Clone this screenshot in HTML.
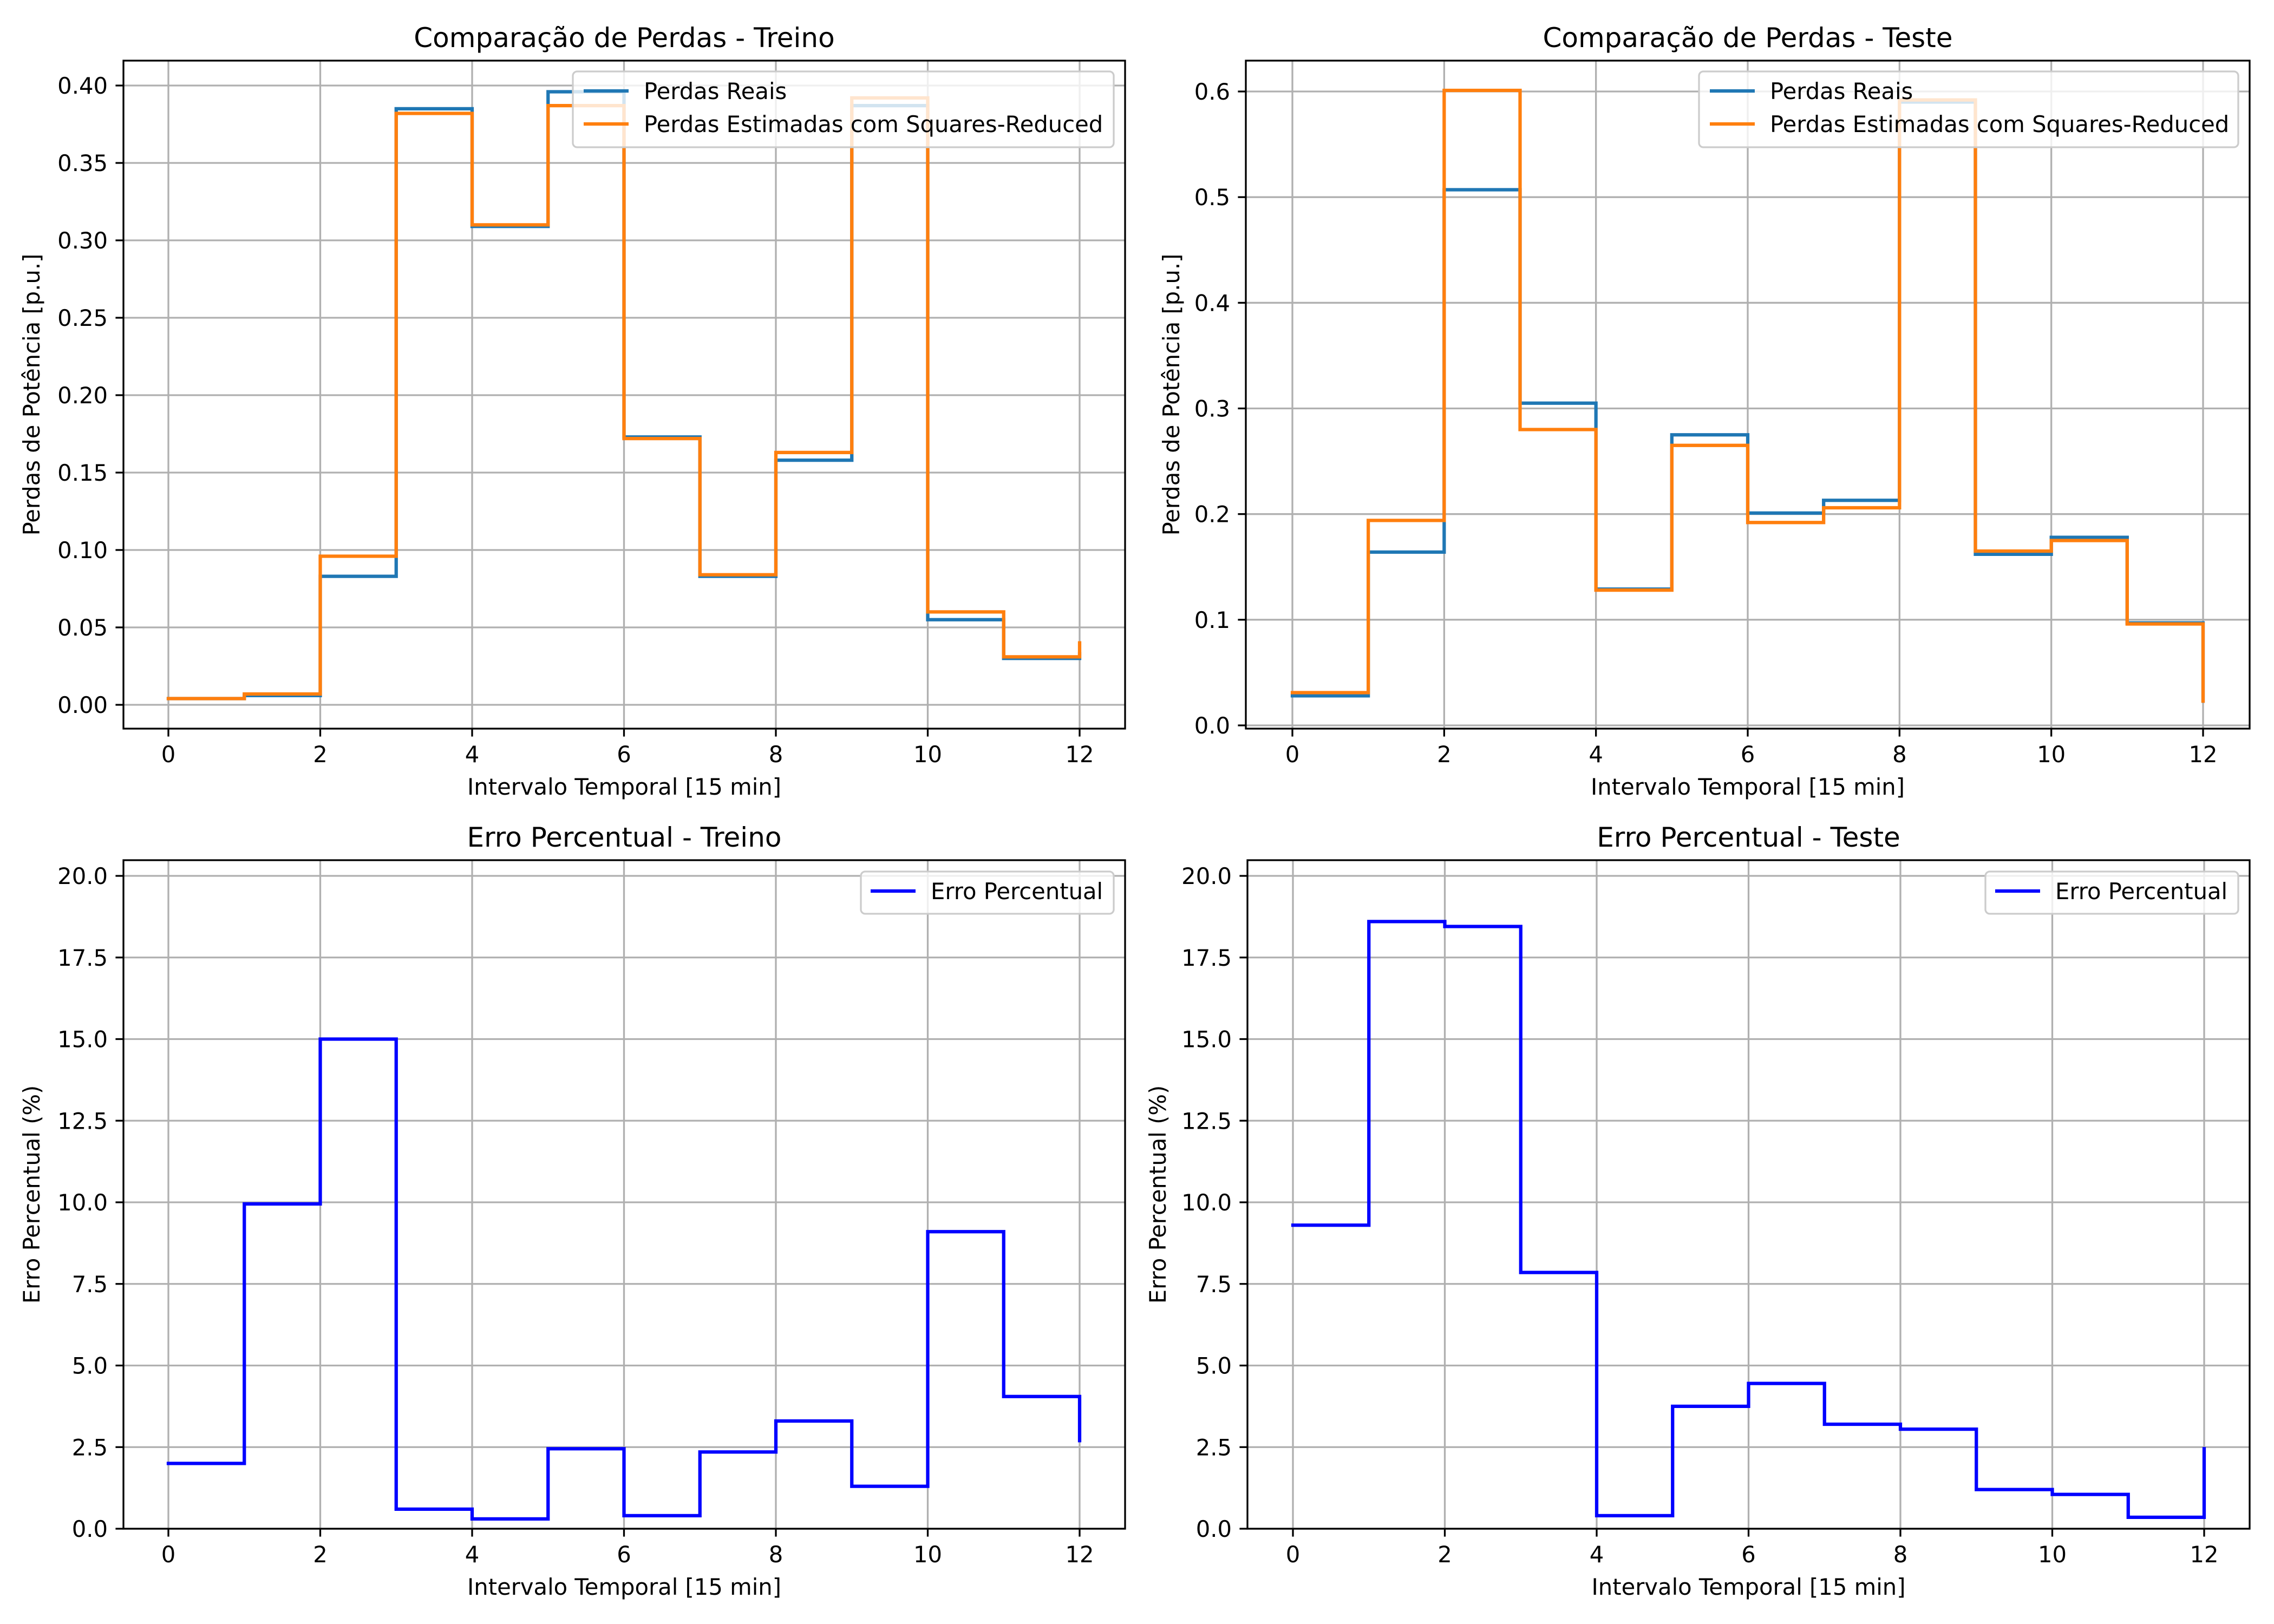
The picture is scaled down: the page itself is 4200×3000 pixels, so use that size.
<!DOCTYPE html>
<html><head><meta charset="utf-8"><style>
html,body{margin:0;padding:0;background:#fff}
svg{display:block}
text{font-family:"DejaVu Sans","Liberation Sans",sans-serif;fill:#000}
</style></head><body>
<svg id="fig" width="4200" height="3000" viewBox="0 0 4200 3000" xmlns="http://www.w3.org/2000/svg"></svg>
<script>
const xCats = [0,1,2,3,4,5,6,7,8,9,10,11,12];
const xTicks = [0,2,4,6,8,10,12];
const trainReal = [0.004,0.006,0.083,0.385,0.309,0.396,0.173,0.083,0.158,0.387,0.055,0.030,0.033];
const trainEst = [0.004,0.007,0.096,0.382,0.310,0.387,0.172,0.084,0.163,0.392,0.060,0.031,0.040];
const testReal = [0.028,0.164,0.507,0.305,0.129,0.275,0.201,0.213,0.590,0.162,0.178,0.097,0.023];
const testEst = [0.031,0.194,0.601,0.280,0.128,0.265,0.192,0.206,0.592,0.165,0.175,0.096,0.023];
const errTrain = [2.0,9.95,15.0,0.6,0.3,2.45,0.4,2.35,3.3,1.3,9.1,4.05,2.7];
const errTest = [9.3,18.6,18.45,7.85,0.4,3.75,4.45,3.2,3.05,1.2,1.05,0.35,2.45];
const yTicksTrain = [0,0.05,0.10,0.15,0.20,0.25,0.30,0.35,0.40];
const yTicksTest = [0,0.1,0.2,0.3,0.4,0.5,0.6];
const yTicksErr = [0,2.5,5,7.5,10,12.5,15,17.5,20];

const NS="http://www.w3.org/2000/svg";
const svg=document.getElementById('fig');
function mk(tag,attrs,parent){const e=document.createElementNS(NS,tag);for(const k in attrs)e.setAttribute(k,attrs[k]);(parent||svg).appendChild(e);return e;}

function panel(cfg){
  const g=mk('g',{});
  
  
  const L=cfg.L,R=cfg.R,T=cfg.T,B=cfg.B;
  const sx=v=>cfg.x0+(cfg.x12-cfg.x0)*v/12;
  const sy=v=>cfg.yA+(cfg.yB-cfg.yA)*(v-cfg.vA)/(cfg.vB-cfg.vA);
  // grid
  xTicks.forEach(t=>{const l=mk('line',{x1:sx(t),x2:sx(t),y1:T,y2:B,stroke:'#b0b0b0','stroke-width':3.3},g);
    
    });
  cfg.yTicks.forEach(t=>{const l=mk('line',{x1:L,x2:R,y1:sy(t),y2:sy(t),stroke:'#b0b0b0','stroke-width':3.3},g);
    
    });
  // series
  cfg.series.forEach(s=>{
    let d='M'+sx(xCats[0])+' '+sy(s.vals[0]);
    for(let i=1;i<xCats.length;i++){d+=' H'+sx(xCats[i])+' V'+sy(s.vals[i]);}
    const p=mk('path',{d:d,fill:'none',stroke:s.color,'stroke-width':6.25,'stroke-linejoin':'miter','stroke-linecap':'square'},g);
    
    
  });
  // spines
  const f=mk('rect',{x:L,y:T,width:R-L,height:B-T,fill:'none',stroke:'#000','stroke-width':3.3},g);
  
  
  // ticks
  xTicks.forEach(t=>{mk('line',{x1:sx(t),x2:sx(t),y1:B,y2:B+14.6,stroke:'#000','stroke-width':3.3},g);
    const tx=mk('text',{x:sx(t),y:B+62,'font-size':41.7,'text-anchor':'middle'},g);tx.textContent=t;
    
    });
  cfg.yTicks.forEach(t=>{mk('line',{x1:L-14.6,x2:L,y1:sy(t),y2:sy(t),stroke:'#000','stroke-width':3.3},g);
    const tx=mk('text',{x:L-29,y:sy(t)+15,'font-size':41.7,'text-anchor':'end'},g);tx.textContent=t.toFixed(cfg.dec);
    
    });
  // titles
  const ti=mk('text',{x:(L+R)/2,y:T-25,'font-size':50,'text-anchor':'middle'},g);ti.textContent=cfg.title;
  
  
  const xl=mk('text',{x:(L+R)/2,y:B+122,'font-size':41.7,'text-anchor':'middle'},g);xl.textContent='Intervalo Temporal [15 min]';
  
  
  const yx=cfg.ylx, yy=(T+B)/2;
  const yl=mk('text',{x:yx,y:yy,'font-size':41.7,'text-anchor':'middle',transform:'rotate(-90 '+yx+' '+yy+')'},g);yl.textContent=cfg.ylabel;
  
  
  // legend
  const lg=cfg.legend;
  const lgG=mk('g',{},g);
  
  
  mk('rect',{x:lg.x1,y:lg.y1,width:lg.x2-lg.x1,height:lg.y2-lg.y1,rx:8,fill:'#fff','fill-opacity':0.8,stroke:'#cccccc','stroke-width':3.3},lgG);
  cfg.series.forEach((s,i)=>{
    const ry=lg.row0+i*61;
    mk('line',{x1:lg.h1,x2:lg.h1+83,y1:ry,y2:ry,stroke:s.color,'stroke-width':6.25},lgG);
    const t=mk('text',{x:lg.h1+111,y:ry+15,'font-size':41.7},lgG);t.textContent=s.label;
    
    
  });
}

panel({name:'train-loss-chart',L:228,R:2078,T:112,B:1346,x0:311,x12:1994,vA:0,yA:1302,vB:0.4,yB:158,
  yTicks:yTicksTrain,dec:2,title:'Comparação de Perdas - Treino',ylabel:'Perdas de Potência [p.u.]',ylx:73,
  series:[{id:'train-real-line',vals:trainReal,color:'#1f77b4',label:'Perdas Reais'},
          {id:'train-estimated-line',vals:trainEst,color:'#ff7f0e',label:'Perdas Estimadas com Squares-Reduced'}],
  legend:{x1:1058,x2:2057,y1:132,y2:272,h1:1078,row0:168}});
panel({name:'test-loss-chart',L:2301,R:4155,T:112,B:1346,x0:2387,x12:4069,vA:0,yA:1340,vB:0.6,yB:169,
  yTicks:yTicksTest,dec:1,title:'Comparação de Perdas - Teste',ylabel:'Perdas de Potência [p.u.]',ylx:2178,
  series:[{id:'test-real-line',vals:testReal,color:'#1f77b4',label:'Perdas Reais'},
          {id:'test-estimated-line',vals:testEst,color:'#ff7f0e',label:'Perdas Estimadas com Squares-Reduced'}],
  legend:{x1:3138,x2:4134,y1:132,y2:272,h1:3158,row0:168}});
panel({name:'train-error-chart',L:228,R:2078,T:1589,B:2824,x0:311,x12:1994,vA:0,yA:2824,vB:20,yB:1618,
  yTicks:yTicksErr,dec:1,title:'Erro Percentual - Treino',ylabel:'Erro Percentual (%)',ylx:73,
  series:[{id:'train-error-line',vals:errTrain,color:'#0000ff',label:'Erro Percentual'}],
  legend:{x1:1590,x2:2057,y1:1610,y2:1688,h1:1608,row0:1646}});
panel({name:'test-error-chart',L:2304,R:4155,T:1589,B:2824,x0:2388,x12:4071,vA:0,yA:2824,vB:20,yB:1618,
  yTicks:yTicksErr,dec:1,title:'Erro Percentual - Teste',ylabel:'Erro Percentual (%)',ylx:2153,
  series:[{id:'test-error-line',vals:errTest,color:'#0000ff',label:'Erro Percentual'}],
  legend:{x1:3667,x2:4134,y1:1610,y2:1688,h1:3685,row0:1646}});
</script>
</body></html>
